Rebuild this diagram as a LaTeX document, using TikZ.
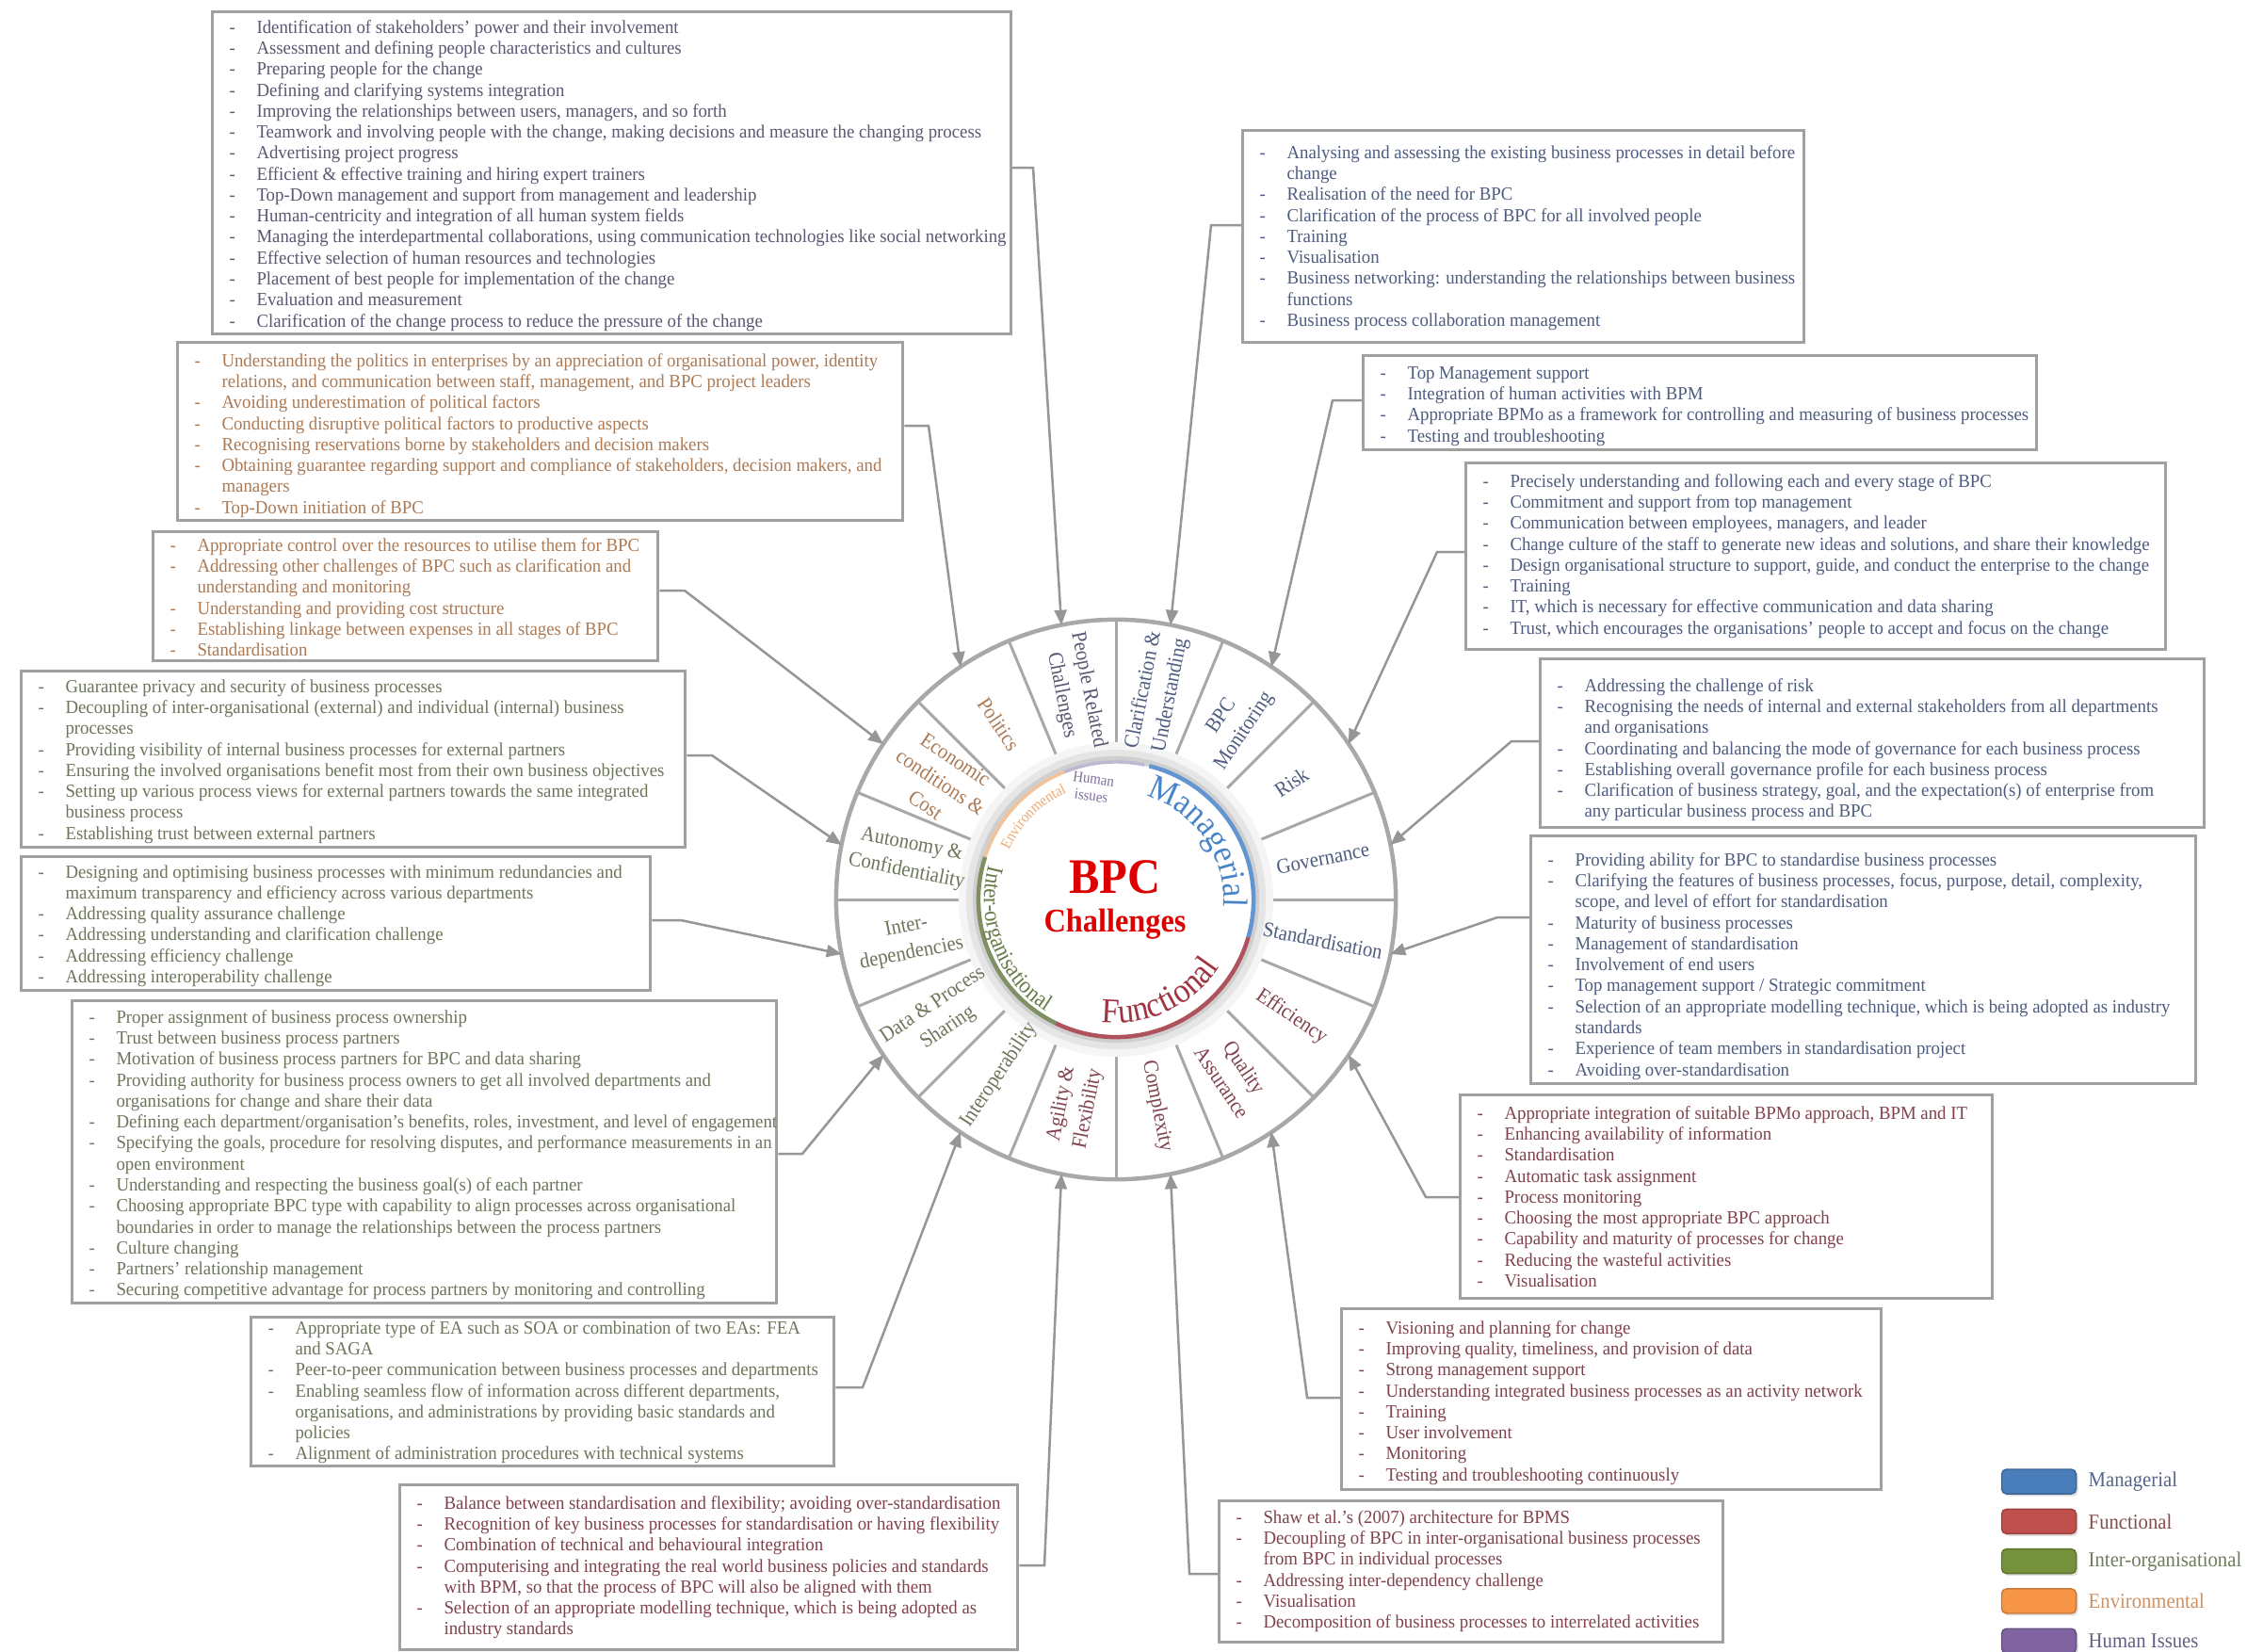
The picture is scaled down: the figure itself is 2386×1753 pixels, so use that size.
\documentclass[tikz,border=0pt]{standalone}
\usepackage{fontspec}
\setmainfont{Liberation Serif}[FakeStretch=0.92]
\newfontfamily\boxfam{Liberation Serif}[Ligatures=TeX, FakeStretch=0.955]
\usetikzlibrary{arrows.meta, calc, decorations.text, shadows}

\definecolor{manc}{RGB}{78,92,128}
\definecolor{funcc}{RGB}{128,66,76}
\definecolor{interc}{RGB}{108,118,90}
\definecolor{envc}{RGB}{172,122,84}
\definecolor{peoplec}{RGB}{94,86,114}
\definecolor{boxgray}{RGB}{160,160,160}
\definecolor{rimgray}{RGB}{168,168,168}
\definecolor{conngray}{RGB}{150,150,150}
\definecolor{bpcred}{RGB}{220,0,0}
\definecolor{mangc}{RGB}{72,132,200}
\definecolor{funcurc}{RGB}{160,52,64}
\definecolor{intcurc}{RGB}{104,124,72}
\definecolor{envcurc}{RGB}{236,168,112}
\definecolor{humcurc}{RGB}{128,110,160}
\definecolor{legman}{RGB}{74,126,187}
\definecolor{legfun}{RGB}{192,80,77}
\definecolor{legint}{RGB}{118,146,60}
\definecolor{legenv}{RGB}{247,150,70}
\definecolor{leghum}{RGB}{128,100,162}
\definecolor{legmant}{RGB}{85,100,135}
\definecolor{legfunt}{RGB}{135,75,75}
\definecolor{leginst}{RGB}{110,125,90}
\definecolor{legenvt}{RGB}{205,145,100}
\definecolor{leghumt}{RGB}{100,95,130}

\newcommand\boxfont{\boxfam\fontsize{5.6}{6.33}\selectfont}
\newcommand\wheelfont{\fontsize{6.4}{8.2}\selectfont}
\newcommand\legfont{\fontsize{6.4}{7.7}\selectfont}
\newcommand\curvefont{\fontsize{10.5}{12}\selectfont}

\newlength\dashw
\setlength\dashw{0.29cm}
% one bullet line, and a continuation line (always as wide as the box)
\newcommand\bi[1]{\hbox to\hsize{\makebox[\dashw][l]{-}#1\hss}}
\newcommand\bc[1]{\hbox to\hsize{\hspace*{\dashw}#1\hss}}

\begin{document}
\begin{tikzpicture}[
    x = 0.01cm, y = 0.01cm,
    tbox/.style   = {draw=boxgray, line width=0.03cm, fill=white,
                     anchor=north west, inner xsep=0.18cm, inner ysep=0.1cm,
                     font=\boxfont},
    wlab/.style   = {font=\wheelfont, align=center, inner sep=0},
    spoke/.style  = {draw=rimgray, line width=0.03cm},
    conn/.style   = {draw=conngray, line width=0.025cm,
                     -{Triangle[length=0.16cm, width=0.13cm]}},
    legbox/.style = {rounded corners=0.05cm, minimum width=0.79cm,
                     minimum height=0.26cm, inner sep=0,
                     drop shadow={opacity=0.25, shadow xshift=0.02cm,
                                  shadow yshift=-0.025cm}},
    legtxt/.style = {font=\legfont, anchor=west, inner sep=0},
  ]
  \useasboundingbox (0,0) rectangle (2386,-1753);

  % ---- the wheel
  \coordinate (c) at (1185,-955);
  \draw[rimgray, line width=0.045cm, fill=white] (c) circle (2.97cm);
  \foreach \ang in {0,22.5,...,337.5}
    \draw[spoke] ($(c)+(\ang:150)$) -- ($(c)+(\ang:297)$);

  % hub with its soft rim
  \fill[gray!8]  (c) circle (1.67cm);
  \fill[gray!20] (c) circle (1.59cm);
  \fill[gray!38] (c) circle (1.52cm);
  \fill[white]   (c) circle (1.45cm);
  \draw[mangc!85, line width=0.045cm]   ($(c)+(76:1.46cm)$)   arc[start angle=76,   end angle=-16,  radius=1.46cm];
  \draw[funcurc!85, line width=0.045cm] ($(c)+(-16:1.46cm)$)  arc[start angle=-16,  end angle=-116, radius=1.46cm];
  \draw[intcurc!85, line width=0.045cm] ($(c)+(-116:1.46cm)$) arc[start angle=-116, end angle=-198, radius=1.46cm];
  \draw[envcurc!70, line width=0.035cm] ($(c)+(162:1.46cm)$) arc[start angle=162, end angle=112, radius=1.46cm];
  \draw[humcurc!50, line width=0.035cm] ($(c)+(112:1.46cm)$) arc[start angle=112, end angle=78, radius=1.46cm];

  \node[font=\fontsize{15}{17}\selectfont\bfseries, text=bpcred] (bpc) at (1184,-931) {BPC};
  \node[font=\fontsize{10}{12}\selectfont\bfseries, text=bpcred] (chal) at (1184,-981) {Challenges};
  \node[font=\fontsize{4.6}{5.2}\selectfont, text=humcurc, align=center, rotate=-8] (hum) at (1160,-836) {Human\\issues};

  \path[decorate, decoration={text along path, text align=center, text color=mangc,
        text={|\curvefont|Managerial}}]
    ($(c)+(80:1.14cm)$) arc[start angle=80, end angle=-10, radius=1.14cm];
  \path[decorate, decoration={text along path, text align=center, text color=funcurc,
        text={|\curvefont|Functional}}]
    ($(c)+(-110:1.31cm)$) arc[start angle=-110, end angle=-20, radius=1.31cm];
  \path[decorate, decoration={text along path, text align=center, text color=intcurc,
        text={|\fontsize{7}{8}\selectfont|Inter-organisational}}]
    ($(c)+(152:1.40cm)$) arc[start angle=152, end angle=251, radius=1.40cm];
  \path[decorate, decoration={text along path, text align=center, text color=envcurc,
        text={|\fontsize{4.6}{5}\selectfont|Environmental}}]
    ($(c)+(162:1.25cm)$) arc[start angle=162, end angle=108, radius=1.25cm];

  % sector labels and arrow targets
  \foreach \n/\ang/\rot/\col/\txt in {
      people/101.25/-78.75/peoplec/{People Related\\Challenges},
      clar/78.75/78.75/manc/{Clarification \&\\Understanding},
      mon/56.25/56.25/manc/{BPC\\Monitoring},
      risk/33.75/33.75/manc/{Risk},
      gov/11.25/11.25/manc/{Governance},
      std/-11.25/-11.25/manc/{Standardisation},
      eff/-33.75/-33.75/funcc/{Efficiency},
      qa/-56.25/-56.25/funcc/{Quality\\Assurance},
      cx/-78.75/-78.75/funcc/{Complexity},
      agil/-101.25/78.75/funcc/{Agility \&\\Flexibility},
      iop/-123.75/56.25/interc/{Interoperability},
      data/-146.25/33.75/interc/{Data \& Process\\Sharing},
      idep/-168.75/11.25/interc/{Inter-\\dependencies},
      auto/168.75/-11.25/interc/{Autonomy \&\\Confidentiality},
      econ/146.25/-33.75/envc/{Economic\\conditions \&\\Cost},
      pol/123.75/-56.25/envc/{Politics}} {
    \node[wlab, text=\col, rotate=\rot] (lab-\n) at ($(c)+(\ang:224)$) {\txt};
    \coordinate (tip-\n) at ($(c)+(\ang:297)$);
  }

  % ---- the boxes
  \node[tbox, text=peoplec, inner ysep=0.09cm] (people) at (224,-11)
    {\parbox[c][3.24cm][t]{8.11cm}{%
      \bi{Identification of stakeholders' power and their involvement}
      \bi{Assessment and defining people characteristics and cultures}
      \bi{Preparing people for the change}
      \bi{Defining and clarifying systems integration}
      \bi{Improving the relationships between users, managers, and so forth}
      \bi{Teamwork and involving people with the change, making decisions and measure the changing process}
      \bi{Advertising project progress}
      \bi{Efficient \& effective training and hiring expert trainers}
      \bi{Top-Down management and support from management and leadership}
      \bi{Human-centricity and integration of all human system fields}
      \bi{Managing the interdepartmental collaborations, using communication technologies like social networking}
      \bi{Effective selection of human resources and technologies}
      \bi{Placement of best people for implementation of the change}
      \bi{Evaluation and measurement}
      \bi{Clarification of the change process to reduce the pressure of the change}}};

  \node[tbox, text=envc, inner ysep=0.12cm] (pol) at (187,-362)
    {\parbox[c][1.65cm][t]{7.34cm}{%
      \bi{Understanding the politics in enterprises by an appreciation of organisational power, identity}
      \bc{relations, and communication between staff, management, and BPC project leaders}
      \bi{Avoiding underestimation of political factors}
      \bi{Conducting disruptive political factors to productive aspects}
      \bi{Recognising reservations borne by stakeholders and decision makers}
      \bi{Obtaining guarantee regarding support and compliance of stakeholders, decision makers, and}
      \bc{managers}
      \bi{Top-Down initiation of BPC}}};

  \node[tbox, text=envc, inner ysep=0.07cm] (econ) at (161,-563)
    {\parbox[c][1.23cm][t]{5.00cm}{%
      \bi{Appropriate control over the resources to utilise them for BPC}
      \bi{Addressing other challenges of BPC such as clarification and}
      \bc{understanding and monitoring}
      \bi{Understanding and providing cost structure}
      \bi{Establishing linkage between expenses in all stages of BPC}
      \bi{Standardisation}}};

  \node[tbox, text=interc, inner ysep=0.09cm] (auto) at (21,-711)
    {\parbox[c][1.69cm][t]{6.69cm}{%
      \bi{Guarantee privacy and security of business processes}
      \bi{Decoupling of inter-organisational (external) and individual (internal) business}
      \bc{processes}
      \bi{Providing visibility of internal business processes for external partners}
      \bi{Ensuring the involved organisations benefit most from their own business objectives}
      \bi{Setting up various process views for external partners towards the same integrated}
      \bc{business process}
      \bi{Establishing trust between external partners}}};

  \node[tbox, text=interc, inner ysep=0.09cm] (idep) at (21,-908)
    {\parbox[c][1.24cm][t]{6.32cm}{%
      \bi{Designing and optimising business processes with minimum redundancies and}
      \bc{maximum transparency and efficiency across various departments}
      \bi{Addressing quality assurance challenge}
      \bi{Addressing understanding and clarification challenge}
      \bi{Addressing efficiency challenge}
      \bi{Addressing interoperability challenge}}};

  \node[tbox, text=interc, inner ysep=0.10cm] (data) at (75,-1061)
    {\parbox[c][3.01cm][t]{7.12cm}{%
      \bi{Proper assignment of business process ownership}
      \bi{Trust between business process partners}
      \bi{Motivation of business process partners for BPC and data sharing}
      \bi{Providing authority for business process owners to get all involved departments and}
      \bc{organisations for change and share their data}
      \bi{Defining each department/organisation's benefits, roles, investment, and level of engagement}
      \bi{Specifying the goals, procedure for resolving disputes, and performance measurements in an}
      \bc{open environment}
      \bi{Understanding and respecting the business goal(s) of each partner}
      \bi{Choosing appropriate BPC type with capability to align processes across organisational}
      \bc{boundaries in order to manage the relationships between the process partners}
      \bi{Culture changing}
      \bi{Partners' relationship management}
      \bi{Securing competitive advantage for process partners by monitoring and controlling}}};

  \node[tbox, text=interc, inner ysep=0.04cm] (iop) at (265,-1397)
    {\parbox[c][1.50cm][t]{5.83cm}{%
      \bi{Appropriate type of EA such as SOA or combination of two EAs: FEA}
      \bc{and SAGA}
      \bi{Peer-to-peer communication between business processes and departments}
      \bi{Enabling seamless flow of information across different departments,}
      \bc{organisations, and administrations by providing basic standards and}
      \bc{policies}
      \bi{Alignment of administration procedures with technical systems}}};

  \node[tbox, text=funcc, inner ysep=0.12cm] (agil) at (423,-1575)
    {\parbox[c][1.51cm][t]{6.20cm}{%
      \bi{Balance between standardisation and flexibility; avoiding over-standardisation}
      \bi{Recognition of key business processes for standardisation or having flexibility}
      \bi{Combination of technical and behavioural integration}
      \bi{Computerising and integrating the real world business policies and standards}
      \bc{with BPM, so that the process of BPC will also be aligned with them}
      \bi{Selection of an appropriate modelling technique, which is being adopted as}
      \bc{industry standards}}};

  \node[tbox, text=funcc, inner ysep=0.10cm] (cx) at (1293,-1592)
    {\parbox[c][1.30cm][t]{4.99cm}{%
      \bi{Shaw et al.{\char"0027}s (2007) architecture for BPMS}
      \bi{Decoupling of BPC in inter-organisational business processes}
      \bc{from BPC in individual processes}
      \bi{Addressing inter-dependency challenge}
      \bi{Visualisation}
      \bi{Decomposition of business processes to interrelated activities}}};

  \node[tbox, text=funcc, inner ysep=0.13cm] (qa) at (1423,-1388)
    {\parbox[c][1.66cm][t]{5.37cm}{%
      \bi{Visioning and planning for change}
      \bi{Improving quality, timeliness, and provision of data}
      \bi{Strong management support}
      \bi{Understanding integrated business processes as an activity network}
      \bi{Training}
      \bi{User involvement}
      \bi{Monitoring}
      \bi{Testing and troubleshooting continuously}}};

  \node[tbox, text=funcc, inner ysep=0.12cm] (eff) at (1549,-1161)
    {\parbox[c][1.92cm][t]{5.29cm}{%
      \bi{Appropriate integration of suitable BPMo approach, BPM and IT}
      \bi{Enhancing availability of information}
      \bi{Standardisation}
      \bi{Automatic task assignment}
      \bi{Process monitoring}
      \bi{Choosing the most appropriate BPC approach}
      \bi{Capability and maturity of processes for change}
      \bi{Reducing the wasteful activities}
      \bi{Visualisation}}};

  \node[tbox, text=manc, inner ysep=0.18cm] (std) at (1624,-886)
    {\parbox[c][2.27cm][t]{6.70cm}{%
      \bi{Providing ability for BPC to standardise business processes}
      \bi{Clarifying the features of business processes, focus, purpose, detail, complexity,}
      \bc{scope, and level of effort for standardisation}
      \bi{Maturity of business processes}
      \bi{Management of standardisation}
      \bi{Involvement of end users}
      \bi{Top management support / Strategic commitment}
      \bi{Selection of an appropriate modelling technique, which is being adopted as industry}
      \bc{standards}
      \bi{Experience of team members in standardisation project}
      \bi{Avoiding over-standardisation}}};

  \node[tbox, text=manc, inner ysep=0.21cm] (gov) at (1634,-698)
    {\parbox[c][1.37cm][t]{6.69cm}{%
      \bi{Addressing the challenge of risk}
      \bi{Recognising the needs of internal and external stakeholders from all departments}
      \bc{and organisations}
      \bi{Coordinating and balancing the mode of governance for each business process}
      \bi{Establishing overall governance profile for each business process}
      \bi{Clarification of business strategy, goal, and the expectation(s) of enterprise from}
      \bc{any particular business process and BPC}}};

  \node[tbox, text=manc, inner ysep=0.12cm] (risk) at (1555,-490)
    {\parbox[c][1.74cm][t]{7.07cm}{%
      \bi{Precisely understanding and following each and every stage of BPC}
      \bi{Commitment and support from top management}
      \bi{Communication between employees, managers, and leader}
      \bi{Change culture of the staff to generate new ideas and solutions, and share their knowledge}
      \bi{Design organisational structure to support, guide, and conduct the enterprise to the change}
      \bi{Training}
      \bi{IT, which is necessary for effective communication and data sharing}
      \bi{Trust, which encourages the organisations' people to accept and focus on the change}}};

  \node[tbox, text=manc, inner ysep=0.12cm] (mon) at (1446,-376)
    {\parbox[c][0.76cm][t]{6.79cm}{%
      \bi{Top Management support}
      \bi{Integration of human activities with BPM}
      \bi{Appropriate BPMo as a framework for controlling and measuring of business processes}
      \bi{Testing and troubleshooting}}};

  \node[tbox, text=manc, inner ysep=0.16cm] (clar) at (1318,-137)
    {\parbox[c][1.93cm][t]{5.60cm}{%
      \bi{Analysing and assessing the existing business processes in detail before}
      \bc{change}
      \bi{Realisation of the need for BPC}
      \bi{Clarification of the process of BPC for all involved people}
      \bi{Training}
      \bi{Visualisation}
      \bi{Business networking: understanding the relationships between business}
      \bc{functions}
      \bi{Business process collaboration management}}};

  % ---- connectors
  \coordinate (bend-people) at (1097,-178);
  \coordinate (bend-pol)    at (986,-452);
  \coordinate (bend-econ)   at (727,-627);
  \coordinate (bend-auto)   at (756,-802);
  \coordinate (bend-idep)   at (723,-977);
  \coordinate (bend-data)   at (852,-1225);
  \coordinate (bend-iop)    at (916,-1473);
  \coordinate (bend-agil)   at (1109,-1662);
  \coordinate (bend-cx)     at (1263,-1671);
  \coordinate (bend-qa)     at (1388,-1484);
  \coordinate (bend-eff)    at (1514,-1271);
  \coordinate (bend-std)    at (1590,-974);
  \coordinate (bend-gov)    at (1605,-787);
  \coordinate (bend-risk)   at (1526,-586);
  \coordinate (bend-mon)    at (1415,-425);
  \coordinate (bend-clar)   at (1286,-239);
  \foreach \n/\s in {people/east, pol/east, econ/east, auto/east, idep/east,
                     data/east, iop/east, agil/east, cx/west, qa/west, eff/west,
                     std/west, gov/west, risk/west, mon/west, clar/west}
    \draw[conn] (\n.\s |- bend-\n) -- (bend-\n) -- (tip-\n);

  % ---- legend
  \foreach \i/\nm/\fc/\tc in {0/Managerial/legman/legmant,
                              1/Functional/legfun/legfunt,
                              2/Inter-organisational/legint/leginst,
                              3/Environmental/legenv/legenvt,
                              4/Human Issues/leghum/leghumt} {
    \node[legbox, fill=\fc, draw=\fc!80!black] (leg-\i) at (2165,-1573-42.3*\i) {};
    \node[legtxt, text=\tc] (legt-\i) at (2217,-1573-42.3*\i) {\nm};
  }
\end{tikzpicture}
\end{document}
